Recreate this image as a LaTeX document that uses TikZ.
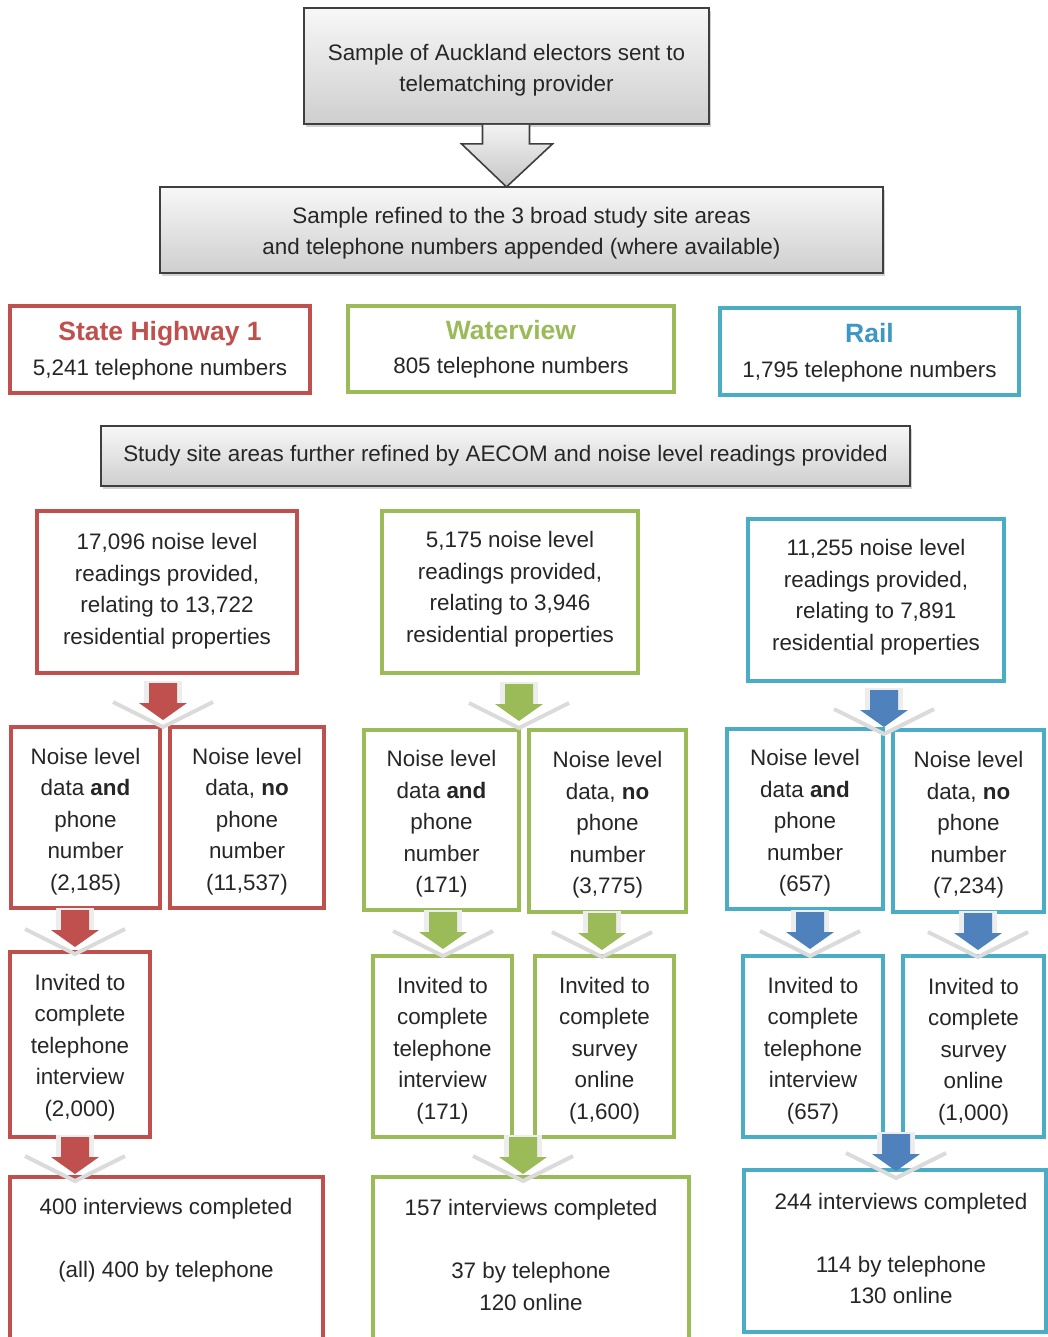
\documentclass[tikz,border=0pt]{standalone}
\usepackage{fontspec}
\setmainfont{Liberation Sans}
\usetikzlibrary{shadows,calc}
\definecolor{cred}{HTML}{C0504D}
\definecolor{cgreen}{HTML}{9BBB59}
\definecolor{cteal}{HTML}{4BACC6}
\definecolor{cblue}{HTML}{4F81BD}
\definecolor{trail}{HTML}{3D98C3}
\definecolor{txt}{HTML}{262626}
\definecolor{gbord}{HTML}{3F3F3F}
\newcommand{\ttlfont}{\fontsize{26.5}{30}\selectfont\bfseries}
\newcommand{\flowarrow}[2]{%
 \begin{scope}[shift={(#1)}]
  \fill[gray!14] (-19,-2) rectangle (19,20);
  \draw[gray!28, line width=4pt] (-50,19) -- (0,44) -- (50,19);
  \fill[#2] (-14,0) -- (14,0) -- (14,20) -- (24,20) -- (0,37) -- (-24,20) -- (-14,20) -- cycle;
 \end{scope}}
\tikzset{
 basefont/.style={font=\fontsize{22.4}{31.5}\selectfont},
 graybox/.style={draw=gbord, line width=1.8pt, top color=gray!6, bottom color=gray!38,
   drop shadow={opacity=0.35, shadow xshift=2pt, shadow yshift=-3pt}, inner sep=0pt},
 cbox/.style={draw=#1, line width=3.2pt, fill=white, inner sep=0pt,
   drop shadow={opacity=0.12, shadow xshift=2pt, shadow yshift=-2pt}},
 txtnode/.style={align=center, text=txt, basefont, inner sep=0pt},
}
\begin{document}
\begin{tikzpicture}[x=1pt,y=-1pt]
\useasboundingbox (0,0) rectangle (1048,1337);
\fill[white] (0,0) rectangle (1048,1337);

% top gray boxes
\node[graybox, minimum width=405pt, minimum height=116pt] (top) at (506.5,66) {};
\node[txtnode] (top-t) at ($(top)+(0,4)$) {Sample of Auckland electors sent to\\telematching provider};
\node[graybox, minimum width=723pt, minimum height=86pt] (second) at (521.5,230) {};
\node[txtnode] (second-t) at ($(second)+(0,3)$) {Sample refined to the 3 broad study site areas\\and telephone numbers appended (where available)};
\draw[gbord, line width=1.6pt, top color=gray!10, bottom color=gray!45]
  ($(top.south)+(-24,0)$) -- ($(top.south)+(-24,19)$) -- ($(top.south)+(-45,19)$)
  -- ($(top.south)+(0,62)$) -- ($(top.south)+(46,19)$) -- ($(top.south)+(23,19)$)
  -- ($(top.south)+(23,0)$);

% site boxes
\node[cbox=cred, minimum width=300pt, minimum height=87pt] (sh) at (160,349.5) {};
\node[txtnode] (sh-t) at ($(sh)+(0,1)$) {{\ttlfont\color{cred}State Highway 1}\\[3pt]5,241 telephone numbers};
\node[cbox=cgreen, minimum width=326pt, minimum height=86pt] (wv) at (511,349) {};
\node[txtnode] (wv-t) at ($(wv)+(0,0)$) {{\ttlfont\color{cgreen}Waterview}\\[3pt]805 telephone numbers};
\node[cbox=cteal, minimum width=299pt, minimum height=87pt] (rl) at (869.5,351.5) {};
\node[txtnode] (rl-t) at ($(rl)+(0,1)$) {{\ttlfont\color{trail}Rail}\\[3pt]1,795 telephone numbers};

\node[graybox, minimum width=809pt, minimum height=60pt] (study) at (505.5,456) {};
\node[txtnode] (study-t) at (study) {Study site areas further refined by AECOM and noise level readings provided};

% noise readings
\node[cbox=cred, minimum width=260pt, minimum height=162pt] (r1) at (167,592) {};
\node[txtnode] (r1-t) at ($(r1)+(0,-1)$) {17,096 noise level\\readings provided,\\relating to 13,722\\residential properties};
\node[cbox=cgreen, minimum width=256pt, minimum height=162pt] (g1) at (510,592) {};
\node[txtnode] (g1-t) at ($(g1)+(0,-3)$) {5,175 noise level\\readings provided,\\relating to 3,946\\residential properties};
\node[cbox=cteal, minimum width=256pt, minimum height=162pt] (b1) at (876,600) {};
\node[txtnode] (b1-t) at ($(b1)+(0,-3)$) {11,255 noise level\\readings provided,\\relating to 7,891\\residential properties};

% split boxes
\node[cbox=cred, minimum width=149pt, minimum height=181pt] (r2a) at (85.5,817.5) {};
\node[txtnode] (r2a-t) at ($(r2a)+(0,4)$) {Noise level\\data \textbf{and}\\phone\\number\\(2,185)};
\node[cbox=cred, minimum width=154pt, minimum height=181pt] (r2b) at (247,817.5) {};
\node[txtnode] (r2b-t) at ($(r2b)+(0,4)$) {Noise level\\data, \textbf{no}\\phone\\number\\(11,537)};
\node[cbox=cgreen, minimum width=155pt, minimum height=180pt] (g2a) at (441.5,820) {};
\node[txtnode] (g2a-t) at ($(g2a)+(0,4)$) {Noise level\\data \textbf{and}\\phone\\number\\(171)};
\node[cbox=cgreen, minimum width=157pt, minimum height=182pt] (g2b) at (607.5,821) {};
\node[txtnode] (g2b-t) at ($(g2b)+(0,4)$) {Noise level\\data, \textbf{no}\\phone\\number\\(3,775)};
\node[cbox=cteal, minimum width=156pt, minimum height=180pt] (b2a) at (805,819) {};
\node[txtnode] (b2a-t) at ($(b2a)+(0,4)$) {Noise level\\data \textbf{and}\\phone\\number\\(657)};
\node[cbox=cteal, minimum width=151pt, minimum height=182pt] (b2b) at (968.5,821) {};
\node[txtnode] (b2b-t) at ($(b2b)+(0,4)$) {Noise level\\data, \textbf{no}\\phone\\number\\(7,234)};

% invited boxes
\node[cbox=cred, minimum width=140pt, minimum height=185pt] (r3) at (80,1044.5) {};
\node[txtnode] (r3-t) at ($(r3)+(0,3)$) {Invited to\\complete\\telephone\\interview\\(2,000)};
\node[cbox=cgreen, minimum width=139pt, minimum height=181pt] (g3a) at (442.5,1046.5) {};
\node[txtnode] (g3a-t) at ($(g3a)+(0,4)$) {Invited to\\complete\\telephone\\interview\\(171)};
\node[cbox=cgreen, minimum width=139pt, minimum height=181pt] (g3b) at (604.5,1046.5) {};
\node[txtnode] (g3b-t) at ($(g3b)+(0,4)$) {Invited to\\complete\\survey\\online\\(1,600)};
\node[cbox=cteal, minimum width=140pt, minimum height=181pt] (b3a) at (813,1046.5) {};
\node[txtnode] (b3a-t) at ($(b3a)+(0,4)$) {Invited to\\complete\\telephone\\interview\\(657)};
\node[cbox=cteal, minimum width=141pt, minimum height=181pt] (b3b) at (973.5,1046.5) {};
\node[txtnode] (b3b-t) at ($(b3b)+(0,5)$) {Invited to\\complete\\survey\\online\\(1,000)};

% final boxes
\node[cbox=cred, minimum width=313pt, minimum height=170pt] (r4) at (166.5,1262) {};
\node[cbox=cgreen, minimum width=316pt, minimum height=170pt] (g4) at (531,1262) {};
\node[cbox=cteal, minimum width=302pt, minimum height=162pt] (b4) at (895,1251) {};
\node[txtnode] (r4-t) at (166,1240) {400 interviews completed\\[31.5pt](all) 400 by telephone};
\node[txtnode] (g4-t) at (531,1255) {157 interviews completed\\[31.5pt]37 by telephone\\120 online};
\node[txtnode] (b4-t) at (901,1248.5) {244 interviews completed\\[31.5pt]114 by telephone\\130 online};

% flow arrows
\coordinate (ar1) at (163,683);
\coordinate (ag1) at (519,684);
\coordinate (ab1) at (884,690);
\coordinate (ar2) at (75,910);
\coordinate (ag2a) at (443,912);
\coordinate (ag2b) at (602,913);
\coordinate (ab2a) at (810,912);
\coordinate (ab2b) at (978,913);
\coordinate (ar3) at (75,1137);
\coordinate (ag3) at (523,1137);
\coordinate (ab3) at (896,1134);
\flowarrow{ar1}{cred}
\flowarrow{ag1}{cgreen}
\flowarrow{ab1}{cblue}
\flowarrow{ar2}{cred}
\flowarrow{ag2a}{cgreen}
\flowarrow{ag2b}{cgreen}
\flowarrow{ab2a}{cblue}
\flowarrow{ab2b}{cblue}
\flowarrow{ar3}{cred}
\flowarrow{ag3}{cgreen}
\flowarrow{ab3}{cblue}
\end{tikzpicture}
\end{document}
